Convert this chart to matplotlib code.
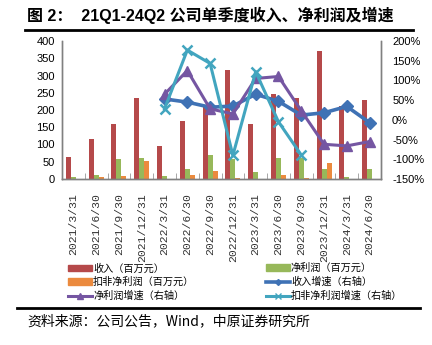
"quarterly revenue / profit bars with growth lines"
import numpy as np
import matplotlib.pyplot as plt
from matplotlib.patches import Patch
from matplotlib.lines import Line2D

plt.rcParams['font.family'] = ['Liberation Sans', 'Noto Sans CJK SC', 'DejaVu Sans']

"data"
dates = ['2021/3/31', '2021/6/30', '2021/9/30', '2021/12/31',
         '2022/3/31', '2022/6/30', '2022/9/30', '2022/12/31',
         '2023/3/31', '2023/6/30', '2023/9/30', '2023/12/31',
         '2024/3/31', '2024/6/30']
revenue = [63, 117, 160, 234, 96, 169, 208, 316, 158, 245, 235, 372, 213, 229]
net_profit = [5, 12, 57, 61, 9, 29, 71, 58, 20, 61, 60, 28, 7, 28]
net_profit_ded = [-2, 5, 9, 53, -2, 12, 24, 3, 1, 12, 3, 45, -2, -2]
# growth lines start at 2022Q1 (index 4)
rev_growth = [53, 45, 32, 35, 65, 47, 12, 18, 34, -7]
np_growth = [65, 125, 28, 15, 105, 110, 23, -62, -66, -55]
ded_growth = [28, 177, 143, -90, 122, -5, -89]

c_rev = '#B5494A'
c_np = '#97B85A'
c_ded = '#EB8A3E'
c_rg = '#3F72B5'
c_npg = '#7556A2'
c_dg = '#42A5BF'

fig = plt.figure(figsize=(4.32, 3.45), dpi=100)
ax = fig.add_axes([62/432, 1-179/345, 319/432, 138/345])
ax2 = ax.twinx()

x = np.arange(len(dates))
w = 0.22
ax.bar(x - w, revenue, w, color=c_rev)
ax.bar(x, net_profit, w, color=c_np)
ax.bar(x + w, net_profit_ded, w, color=c_ded)

xg = x[4:]
ax2.plot(xg, rev_growth, color=c_rg, lw=2.6, marker='D', ms=6.5)
ax2.plot(xg, np_growth, color=c_npg, lw=2.2, marker='^', ms=6.5)
ax2.plot(xg[:len(ded_growth)], ded_growth, color=c_dg, lw=2.2, marker='x', ms=7, mew=1.8)

"axes styling"
ax.set_xlim(-0.5, 13.5)
ax.set_ylim(0, 400)
ax.set_yticks(range(0, 401, 50))
ax2.set_ylim(-150, 200)
ax2.set_yticks(range(-150, 201, 50))
ax2.set_yticklabels([f'{v}%' for v in range(-150, 201, 50)])

ax.set_xticks(x)
ax.set_xticklabels(dates, rotation=90, family='Liberation Mono', fontsize=8.2, color='#333333')
ax.set_xticks(np.arange(-0.5, 14, 1), minor=True)
ax.tick_params(axis='x', which='major', length=0, pad=10)
ax.tick_params(axis='x', which='minor', direction='in', length=4, color='#999999')
ax.tick_params(axis='y', length=0, labelsize=8, pad=5)
ax2.tick_params(axis='y', length=0, labelsize=8, pad=8)

for a in (ax, ax2):
    a.spines['top'].set_visible(False)
    for s in ('left', 'right', 'bottom'):
        a.spines[s].set_color('#808080')
        a.spines[s].set_linewidth(1)

"legend"
cjk = ['Noto Sans CJK SC', 'DejaVu Sans']
h_left = [Patch(color=c_rev), Patch(color=c_ded),
          Line2D([], [], color=c_npg, lw=2.2, marker='^', ms=4)]
l_left = ['收入（百万元）', '扣非净利润（百万元）', '净利润增速（右轴）']
h_right = [Patch(color=c_np),
           Line2D([], [], color=c_rg, lw=2.6, marker='D', ms=3),
           Line2D([], [], color=c_dg, lw=2.2, marker='x', ms=4)]
l_right = ['净利润（百万元）', '收入增速（右轴）', '扣非净利润增速（右轴）']
for hs, ls, xpos in ((h_left, l_left, 0.145), (h_right, l_right, 0.603)):
    fig.legend(hs, ls, loc='upper left', bbox_to_anchor=(xpos, 1-258/345),
               frameon=False, prop={'family': cjk, 'size': 7.3},
               handlelength=2.4, handleheight=0.6, handletextpad=0.1,
               labelspacing=0.35, borderpad=0)

"title, rules, source"
fig.text(27/432, 1-15/345, '图 2：  21Q1-24Q2 公司单季度收入、净利润及增速',
         family=['Liberation Sans', 'Noto Sans CJK SC'], fontsize=11.5,
         fontweight='bold', va='center', ha='left')
fig.add_artist(Line2D([25/432, 413/432], [1-29.5/345]*2, color='black', lw=2))
fig.add_artist(Line2D([17/432, 420/432], [1-307.5/345]*2, color='black', lw=2))
fig.text(27/432, 1-321/345, '资料来源：公司公告，Wind，中原证券研究所',
         family=['Noto Sans CJK SC', 'DejaVu Sans'], fontsize=10,
         va='center', ha='left')

fig.savefig('out.png', dpi=100)
